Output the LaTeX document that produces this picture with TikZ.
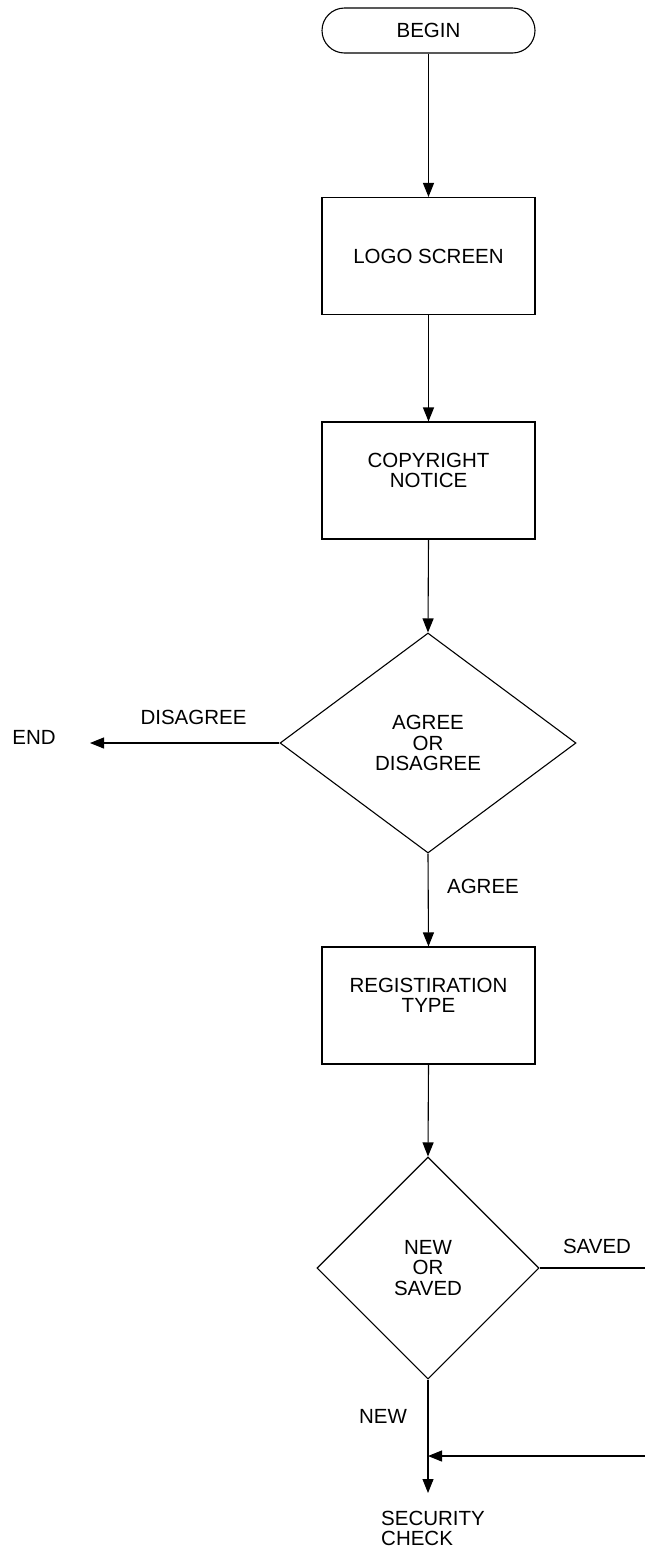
\documentclass[tikz,border=0pt]{standalone}
\usepackage{fontspec}
\setmainfont{Liberation Sans}
\usetikzlibrary{arrows.meta,shapes.geometric}

\begin{document}
\begin{tikzpicture}[x=1pt,y=-1pt,
  every node/.style={font=\fontsize{20.5}{20.5}\selectfont, align=center, inner sep=0pt},
  flowline/.style={line width=1.1pt},
  arr/.style={flowline, -{Triangle[length=14pt,width=11pt]}},
  terminal/.style={draw, line width=1.1pt, minimum width=213pt, minimum height=45pt, rounded corners=22.5pt},
  process/.style={draw, line width=1.1pt, minimum width=213pt, minimum height=117pt},
  decision/.style={draw, line width=1.1pt, shape=diamond},
  lbl/.style={}
]
\useasboundingbox (0,0) rectangle (645,1551);

% start
\node[terminal] (begin) at (428.5,30.5) {BEGIN};

% processes
\node[process] (logo) at (428.5,256) {LOGO SCREEN};
\node[process] (copy) at (428.5,480.5) {};
\node at ([yshift=10pt]copy.center) {COPYRIGHT\\NOTICE};

% first decision
\node[decision, minimum width=296pt, minimum height=220pt] (d1) at (428,743) {AGREE\\OR\\DISAGREE};

\node[process] (reg) at (428.5,1005.5) {};
\node at ([yshift=10pt]reg.center) {REGISTIRATION\\TYPE};

% second decision
\node[decision, minimum width=222pt, minimum height=222pt] (d2) at (428,1268) {NEW\\OR\\SAVED};

% off-page ends
\node (end) at (34,737) {END};
\node[anchor=west, align=left] (sec) at (381,1528.5) {SECURITY\\CHECK};
\coordinate (endtip) at (90,743);
\coordinate (savedout) at (645,1268);
\coordinate (savedin) at (645,1456);
\coordinate (join) at (428,1456);
\coordinate (sectip) at (428,1493);

% connectors
\draw[arr] (begin.south) -- (logo.north);
\draw[arr] (logo.south) -- (copy.north);
\draw[arr] (copy.south) -- (d1.north);
\draw[arr] (d1.west) -- (endtip);
\draw[arr] (d1.south) -- (reg.north);
\draw[arr] (reg.south) -- (d2.north);
\draw[flowline] (d2.east) -- (savedout);
\draw[arr] (d2.south) -- (sectip);
\draw[arr] (savedin) -- (join);

% branch labels
\node[lbl] at (193.5,717) {DISAGREE};
\node[lbl] at (483,886) {AGREE};
\node[lbl] at (597,1246) {SAVED};
\node[lbl] at (383,1416) {NEW};
\end{tikzpicture}
\end{document}
